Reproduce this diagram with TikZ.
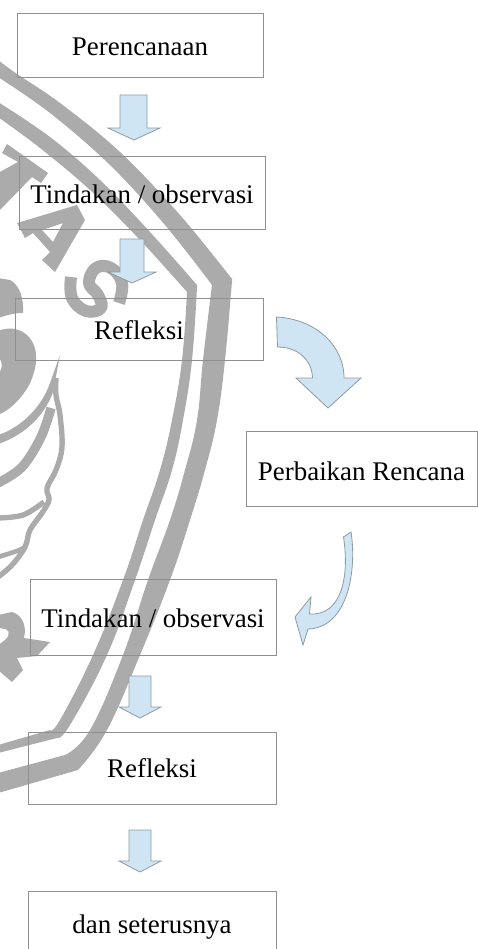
\documentclass[tikz,border=0pt]{standalone}
\usepackage{fontspec}
\setmainfont{Liberation Serif}
\definecolor{wm}{HTML}{ABABAB}
\definecolor{arrowfill}{HTML}{CFE5F4}
\definecolor{arrowline}{HTML}{8C9AA3}
\definecolor{boxline}{HTML}{8F8F8F}
\tikzset{
  box/.style={draw=boxline,line width=.7pt,inner sep=0pt,outer sep=0pt,align=center,text depth=3pt,font=\fontsize{20.2pt}{24pt}\selectfont,text=black},
  blockarrow/.style={fill=arrowfill,draw=arrowline,line width=.6pt,line join=miter},
  wmfill/.style={fill=wm,draw=none},
  wmline/.style={draw=wm,line cap=butt,line join=round}
}
\begin{document}
\begin{tikzpicture}[x=.75pt,y=-.75pt]
\useasboundingbox (0,0) rectangle (478,949);
\begin{scope}
\clip (0,0) rectangle (478,949);
% watermark bands
\fill[wmfill] plot[smooth,tension=.6] coordinates {(-2,60) (17,74) (60,103) (120,152) (180,215) (232,279)}
  -- plot[smooth,tension=.7] coordinates {(232,281) (225,360) (217,420) (205,470) (190,520) (170,580) (140,655) (107,730) (78,770)}
  -- (-2,793) -- (-2,773) -- (65,755)
  -- plot[smooth,tension=.7] coordinates {(65,755) (90,730) (123,655) (148,580) (170,520) (185,470) (197,420) (203,360) (212,285)}
  -- plot[smooth,tension=.6] coordinates {(212,285) (165,225) (110,165) (50,113) (-2,77)} -- cycle;
\fill[wmfill] plot[smooth,tension=.6] coordinates {(-2,102) (50,137) (100,180) (150,232) (197,285)}
  -- plot[smooth,tension=.7] coordinates {(197,287) (192,360) (183,420) (172,470) (155,520) (135,580) (107,655) (70,725) (57,738)}
  -- (-2,753) -- (-2,745) -- (50,730)
  -- plot[smooth,tension=.7] coordinates {(50,730) (60,720) (93,655) (123,580) (143,520) (160,470) (172,420) (182,360) (187,292)}
  -- plot[smooth,tension=.6] coordinates {(187,292) (140,240) (90,190) (40,148) (-2,117)} -- cycle;
% T
\fill[wmfill] (7,144) -- (48,173) -- (41,183) -- (32,177) -- (-2,212) -- (-2,173) -- (18,162) -- (2,153) -- cycle;
% A
\fill[wmfill,even odd rule] (17,223) -- (77,205) -- (85,220) -- (55,272) -- (42,260) -- (50,252) -- (33,233) -- (25,238) -- cycle
  (42,230) -- (63,223) -- (53,242) -- cycle;
% S
\draw[wmline,line width=9pt] plot[smooth,tension=.7] coordinates {(71,277) (72,298) (86,311) (101,308) (98,295) (89,283) (96,268) (111,268) (122,283) (119,303)};
% emblem
\fill[wmfill] (-2,278) -- (10,280) .. controls (20,285) and (24,300) .. (23,313) .. controls (12,313) and (5,316) .. (-2,318) -- cycle;
\fill[wmfill] (-2,331) .. controls (10,326) and (25,328) .. (33,343) .. controls (39,355) and (36,372) .. (28,387) .. controls (20,400) and (10,410) .. (-2,415) -- (-2,375) .. controls (3,368) and (3,360) .. (-2,358) -- cycle;
\fill[wmfill] (-2,435) .. controls (15,430) and (40,412) .. (50,383) -- (60,355) -- (53,392) .. controls (45,415) and (25,435) .. (-2,444) -- cycle;
\draw[wmline,line width=4pt] plot[smooth,tension=.6] coordinates {(56,378) (56,395) (60,415) (62,447) (56,470) (47,488) (49,500) (42,513) (30,530) (25,547) (12,565) (-2,577)};
\draw[wmline,line width=7pt] plot[smooth,tension=.6] coordinates {(51,408) (41,437) (22,467) (-2,483)};
\draw[wmline,line width=4pt] plot[smooth,tension=.6] coordinates {(-2,518) (23,515) (44,502)};
\draw[wmline,line width=3.5pt] plot[smooth,tension=.6] coordinates {(-2,557) (17,551) (25,547)};
% R
\fill[wmfill,even odd rule] (-2,615) -- (12,612) .. controls (22,615) and (27,625) .. (24,638) -- (50,642) -- (37,656) -- (17,658) -- (23,670) -- (12,682) -- (-2,670) -- cycle
  (-2,628) -- (6,629) .. controls (11,632) and (10,638) .. (-2,645) -- cycle;
% block arrows
\draw[blockarrow] (120,95) -- (147,95) -- (147,128) -- (160,128) -- (134,140) -- (108,128) -- (120,128) -- cycle;
\draw[blockarrow] (120,239) -- (144,239) -- (144,272) -- (156,272) -- (132,283) -- (108,272) -- (120,272) -- cycle;
\draw[blockarrow] (129,676) -- (151,676) -- (151,707) -- (161,707) -- (140,718) -- (119,707) -- (129,707) -- cycle;
\draw[blockarrow] (129,830) -- (151,830) -- (151,861) -- (161,861) -- (140,872) -- (119,861) -- (129,861) -- cycle;
\draw[blockarrow] (276.5,317) .. controls (315,319) and (344,345) .. (344,378) -- (361,378) -- (328,408) -- (296,378) -- (312.5,378) .. controls (312,360) and (298,347) .. (277.5,347) -- cycle;
\draw[blockarrow] (343.5,537) -- (351,532) .. controls (357,570) and (348,628) .. (308,629) -- (303,645) -- (295,617) -- (311,597) -- (309.5,614) .. controls (340,616) and (350,580) .. (343.5,537) -- cycle;
\end{scope}
% boxes
\node[box,minimum width=184.5pt,minimum height=48pt,text height=18.75pt] (plan) at (140,45) {Perencanaan};
\node[box,minimum width=184.5pt,minimum height=54.75pt,text height=19.5pt] (act1) at (142,192.5) {Tindakan / observasi};
\node[box,minimum width=186pt,minimum height=46.5pt,text height=18.75pt] (ref1) at (139,329) {Refleksi};
\node[box,minimum width=173.25pt,minimum height=56.25pt,text height=21pt] (fix) at (361.5,468.5) {Perbaikan Rencana};
\node[box,minimum width=184.5pt,minimum height=57pt,text height=18.75pt] (act2) at (153,617) {Tindakan / observasi};
\node[box,minimum width=186pt,minimum height=54pt,text height=17.25pt] (ref2) at (152,768) {Refleksi};
\node[box,minimum width=186pt,minimum height=48pt,text height=18.75pt] (next) at (152,923) {dan seterusnya};
\end{tikzpicture}
\end{document}
